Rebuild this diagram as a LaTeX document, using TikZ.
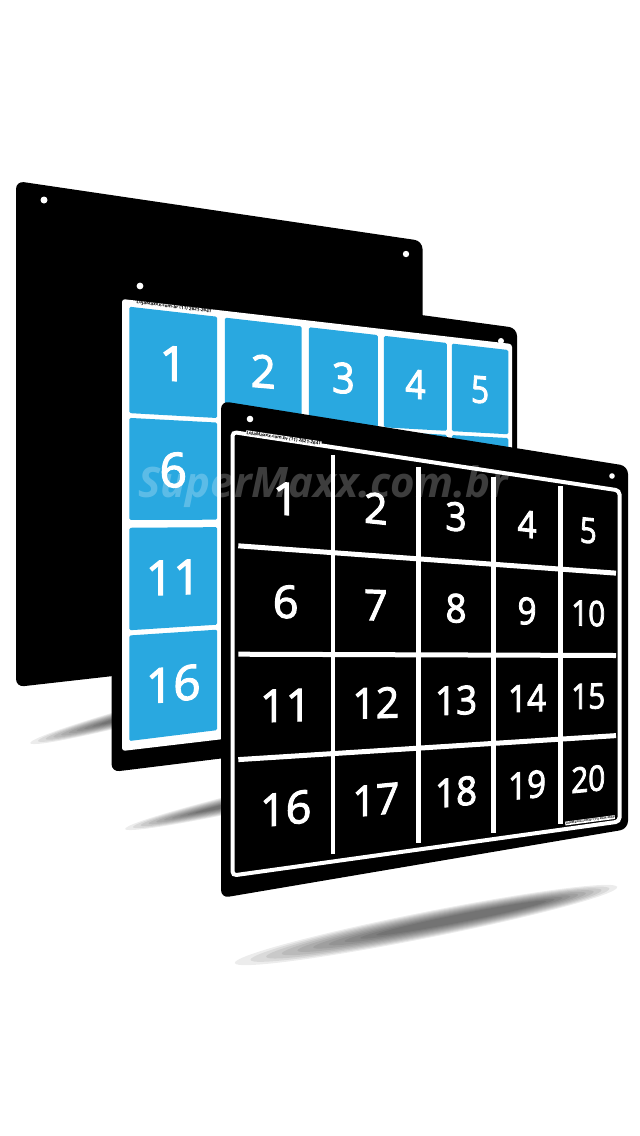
\documentclass[tikz,border=0pt]{standalone}
\usepackage{fontspec}
\setmainfont{Open Sans}
\newfontfamily\digitfont{Open Sans}[FakeBold=2.5]
\usepackage{tikz}
\usetikzlibrary{calc}
\usepackage{xcolor}
\definecolor{tileblue}{RGB}{41,168,224}

% point at fraction (#3,#4) of the grid area #2
\newcommand{\gridpt}[4]{\coordinate (#1) at ($($(#2tl)!#3!(#2tr)$)!#4!($(#2bl)!#3!(#2br)$)$);}

\begin{document}
\begin{tikzpicture}[x=1pt,y=-1pt,
    board/.style={fill=black,rounded corners=8pt},
    hole/.style={fill=white},
    shadow/.style={fill=black,fill opacity=0.075},
    bluetile/.style={fill=tileblue,rounded corners=1.5pt},
    gridline/.style={draw=white,line width=4.5pt},
    digit/.style={text=white,inner sep=0pt},
    tiny/.style={inner sep=0.4pt,font=\bfseries\fontsize{4.6}{5}\selectfont}]
  \path[use as bounding box,fill=white] (0,0) rectangle (640,1136);

  % Shadows under the boards
  \begin{scope}[shift={(180,703)},rotate=15]
    \foreach \k in {0,...,9}
      \fill[shadow] (0,0) ellipse [x radius={155-8*\k}, y radius={9-0.7*\k}];
  \end{scope}
  \begin{scope}[shift={(320,784)},rotate=13]
    \foreach \k in {0,...,9}
      \fill[shadow] (0,0) ellipse [x radius={200-8*\k}, y radius={10-0.8*\k}];
  \end{scope}
  \begin{scope}[shift={(426,925)},rotate=11.25]
    \foreach \k in {0,...,9}
      \fill[shadow] ({4*\k},0) ellipse [x radius={195-12*\k}, y radius={13-1*\k}];
  \end{scope}

  % Back board (plain black)
  \fill[board] (16,181) -- (422.5,241) -- (422.5,641) -- (16,687) -- cycle;
  \fill[hole] (44,200) circle (3.5);
  \fill[hole] (406,254) circle (3.2);

  % Middle board with blue tiles
  \fill[board] (111.5,273) -- (517,328) -- (517,722) -- (111.5,772) -- cycle;
  \fill[white,rounded corners=3pt] (122,299) -- (512,344) -- (512,705) -- (122,751) -- cycle;
  \coordinate (mtl) at (129.3,306.7);
  \coordinate (mtr) at (508.3,350);
  \coordinate (mbr) at (508.3,694);
  \coordinate (mbl) at (129.3,741);
  \foreach \ua/\ub in {0/0.232,0.252/0.455,0.474/0.656,0.672/0.838,0.851/1}
    \foreach \va/\vb in {0/0.245,0.256/0.491,0.509/0.745,0.757/1} {
      \gridpt{p1}{m}{\ua}{\va}
      \gridpt{p2}{m}{\ub}{\va}
      \gridpt{p3}{m}{\ub}{\vb}
      \gridpt{p4}{m}{\ua}{\vb}
      \fill[bluetile] (p1) -- (p2) -- (p3) -- (p4) -- cycle;
    }
  \foreach \uc/\xs/\ys [count=\c] in {0.116/1/1,0.3535/0.91/0.94,0.565/0.82/0.88,0.755/0.74/0.83,0.9255/0.66/0.78}
    \foreach \vc/\sl [count=\r] in {0.1225/-0.085,0.3735/-0.025,0.627/0.035,0.8785/0.095} {
      \pgfmathtruncatemacro{\n}{5*(\r-1)+\c}
      \gridpt{mc}{m}{\uc}{\vc}
      \node[digit,font=\digitfont\fontsize{48}{48}\selectfont,yslant=\sl,xscale=\xs,yscale=\ys] (m\n) at (mc) {\n};
    }
  \node[tiny,rotate=-7] (mlabel) at (174,307) {LojaMaxxx.com.br (11) 2621-2641};
  \fill[hole] (140,286) circle (3.4);
  \fill[hole] (501,341) circle (3);

  % Front board with black tiles
  \fill[board] (221,401) -- (628,466) -- (628,829) -- (221,898) -- cycle;
  \draw[white,line width=4pt,rounded corners=4pt] (232.5,432) -- (619.5,490.5) -- (619.5,821.5) -- (232.5,875.5) -- cycle;
  \coordinate (ftl) at (238.3,441.7);
  \coordinate (ftr) at (616,494);
  \coordinate (fbr) at (616,817);
  \coordinate (fbl) at (238.3,866.7);
  \foreach \u in {0.251,0.477,0.676,0.853} {
    \gridpt{q1}{f}{\u}{0}
    \gridpt{q2}{f}{\u}{1}
    \draw[gridline] (q1) -- (q2);
  }
  \foreach \v in {0.245,0.5,0.748} {
    \gridpt{q1}{f}{0}{\v}
    \gridpt{q2}{f}{1}{\v}
    \draw[gridline,line width=5pt] (q1) -- (q2);
  }
  \foreach \uc/\xs/\ys [count=\c] in {0.1255/1/1,0.364/0.91/0.94,0.5765/0.82/0.88,0.7645/0.74/0.83,0.9265/0.66/0.78}
    \foreach \vc/\sl [count=\r] in {0.1225/-0.105,0.3725/-0.037,0.624/0.03,0.874/0.098} {
      \pgfmathtruncatemacro{\n}{5*(\r-1)+\c}
      \gridpt{fc}{f}{\uc}{\vc}
      \node[digit,font=\digitfont\fontsize{45}{45}\selectfont,yslant=\sl,xscale=\xs,yscale=\ys] (f\n) at (fc) {\n};
    }
  \node[tiny,fill=white,rotate=-8.5] (flabel) at (283.7,438.5) {LojaMaxxx.com.br (11) 2621-2641};
  \node[tiny,fill=white,rotate=7.5,font=\bfseries\fontsize{3}{3.4}\selectfont] (flabel2) at (590,820.3) {LojaMaxxx.com.br (11) 2621-2641};
  \fill[hole] (250,419) circle (3.3);
  \fill[hole] (612,476) circle (2.8);

  % Watermark
  \node[font=\bfseries\itshape\fontsize{42}{42}\selectfont,text=white,text opacity=0.24] (mark) at (323,487) {SuperMaxx.com.br};
\end{tikzpicture}
\end{document}
